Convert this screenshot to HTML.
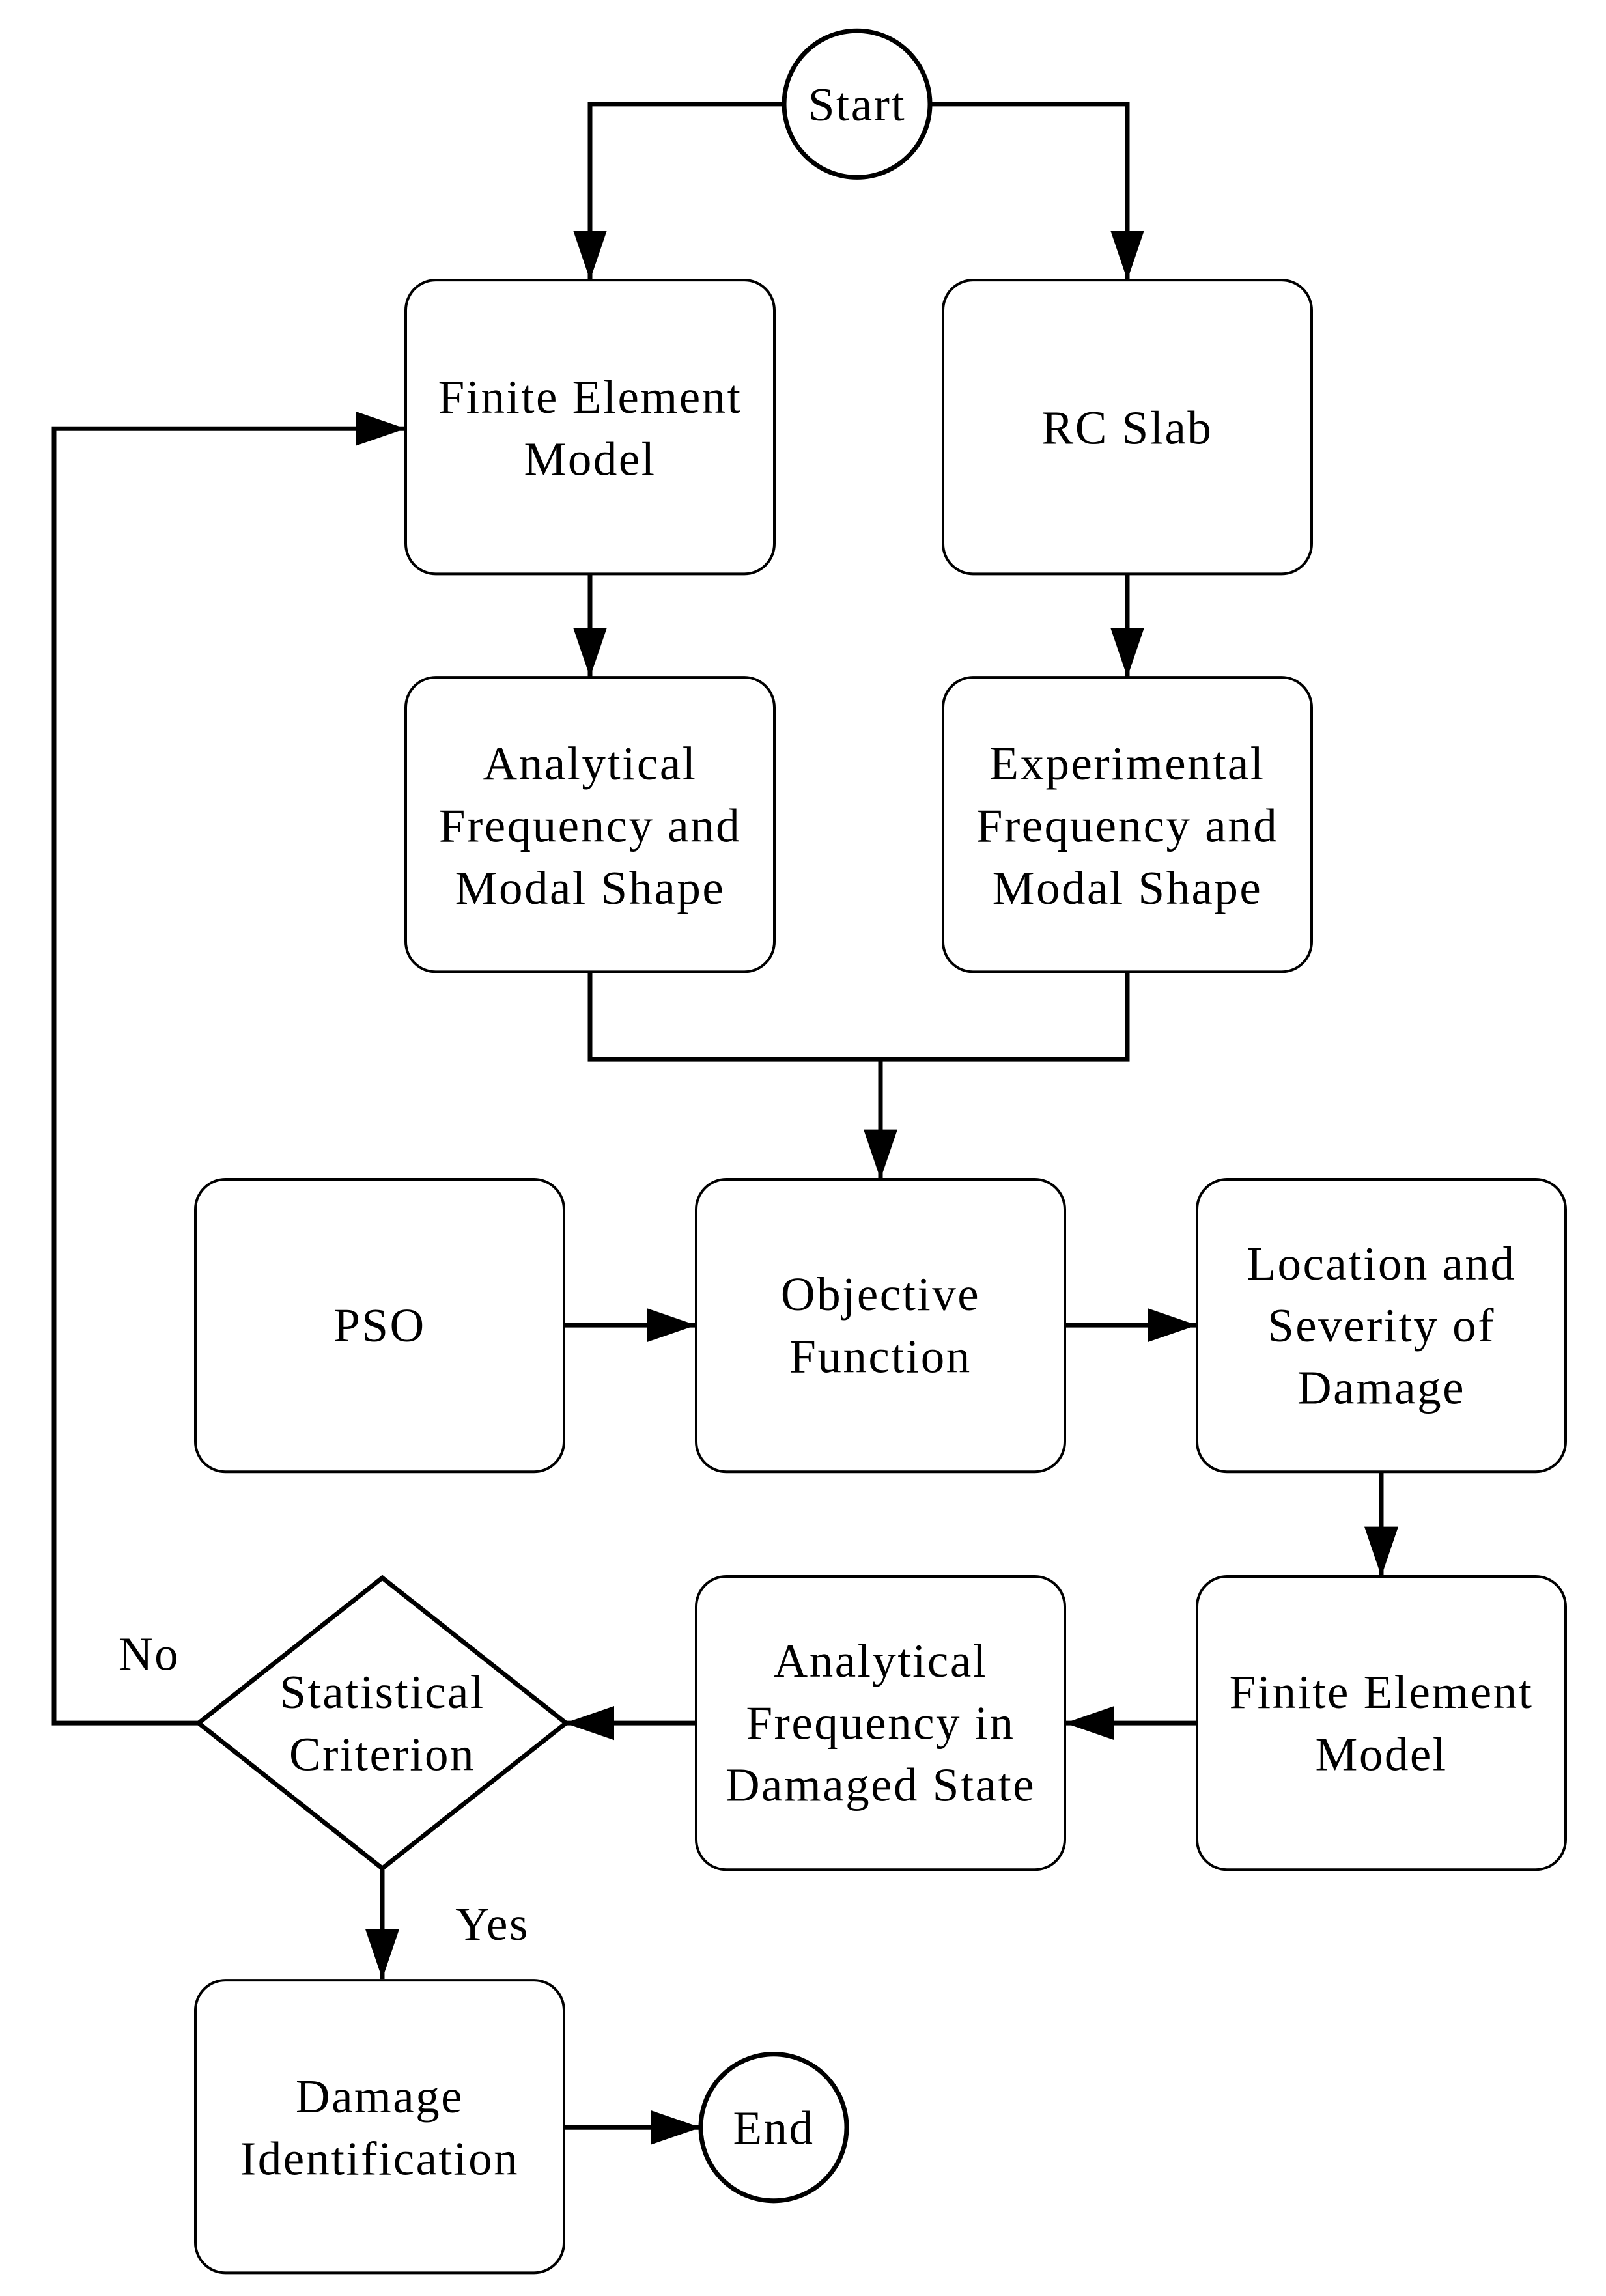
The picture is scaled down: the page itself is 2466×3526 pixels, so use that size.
<!DOCTYPE html>
<html><head><meta charset="utf-8"><style>
html,body{margin:0;padding:0;background:#fff}
svg{display:block}
text{font-family:"Liberation Serif",serif;font-size:73px;fill:#000;text-anchor:middle;letter-spacing:2.5px}
</style></head><body>
<svg width="2466" height="3526" viewBox="0 0 2466 3526" xmlns="http://www.w3.org/2000/svg">
<defs>
<marker id="a" markerUnits="userSpaceOnUse" markerWidth="80" markerHeight="56" refX="76" refY="26" orient="auto">
<path d="M0,0 L76,26 L0,52 Z" fill="#000"/>
</marker>
</defs>
<g transform="scale(1 1.005)">
<g fill="none" stroke="#000" stroke-width="7">
<polyline points="1204,159 906,159 906,428" marker-end="url(#a)"/>
<polyline points="1428,159 1731,159 1731,428" marker-end="url(#a)"/>
<line x1="906" y1="877" x2="906" y2="1035" marker-end="url(#a)"/>
<line x1="1731" y1="877" x2="1731" y2="1035" marker-end="url(#a)"/>
<polyline points="906,1485 906,1619 1731,1619 1731,1485"/>
<line x1="1352" y1="1619" x2="1352" y2="1802" marker-end="url(#a)"/>
<line x1="866" y1="2025" x2="1069" y2="2025" marker-end="url(#a)"/>
<line x1="1635" y1="2025" x2="1838" y2="2025" marker-end="url(#a)"/>
<line x1="2121" y1="2249" x2="2121" y2="2409" marker-end="url(#a)"/>
<line x1="1838" y1="2633" x2="1635" y2="2633" marker-end="url(#a)"/>
<line x1="1069" y1="2633" x2="867" y2="2633" marker-end="url(#a)"/>
<polyline points="307,2633 83,2633 83,655 623,655" marker-end="url(#a)"/>
<line x1="587" y1="2855" x2="587" y2="3024" marker-end="url(#a)"/>
<line x1="866" y1="3251" x2="1076" y2="3251" marker-end="url(#a)"/>
</g>
<g fill="#fff" stroke="#000" stroke-width="4">
<rect x="623" y="428" width="566" height="449" rx="46"/>
<rect x="1448" y="428" width="566" height="449" rx="46"/>
<rect x="623" y="1035" width="566" height="450" rx="46"/>
<rect x="1448" y="1035" width="566" height="450" rx="46"/>
<rect x="300" y="1802" width="566" height="447" rx="46"/>
<rect x="1069" y="1802" width="566" height="447" rx="46"/>
<rect x="1838" y="1802" width="566" height="447" rx="46"/>
<rect x="1069" y="2409" width="566" height="448" rx="46"/>
<rect x="1838" y="2409" width="566" height="448" rx="46"/>
<rect x="300" y="3026" width="566" height="447" rx="46"/>
</g>
<g fill="#fff" stroke="#000" stroke-width="7">
<circle cx="1316" cy="159" r="112"/>
<circle cx="1188" cy="3251" r="112"/>
<polygon points="587,2411 869,2633 587,2855 305,2633"/>
</g>
<text x="1316" y="184">Start</text>
<text x="1188" y="3276">End</text>
<text x="906" y="631">Finite Element</text>
<text x="906" y="726">Model</text>
<text x="1731" y="678">RC Slab</text>
<text x="906" y="1191">Analytical</text>
<text x="906" y="1286">Frequency and</text>
<text x="906" y="1381">Modal Shape</text>
<text x="1731" y="1191">Experimental</text>
<text x="1731" y="1286">Frequency and</text>
<text x="1731" y="1381">Modal Shape</text>
<text x="583" y="2050">PSO</text>
<text x="1352" y="2002">Objective</text>
<text x="1352" y="2097">Function</text>
<text x="2121" y="1955">Location and</text>
<text x="2121" y="2050">Severity of</text>
<text x="2121" y="2145">Damage</text>
<text x="1352" y="2562">Analytical</text>
<text x="1352" y="2657">Frequency in</text>
<text x="1352" y="2752">Damaged State</text>
<text x="2121" y="2610">Finite Element</text>
<text x="2121" y="2705">Model</text>
<text x="587" y="2610">Statistical</text>
<text x="587" y="2705">Criterion</text>
<text x="229" y="2552">No</text>
<text x="756" y="2964">Yes</text>
<text x="583" y="3228">Damage</text>
<text x="583" y="3323">Identification</text>
</g>
</svg>
</body></html>
